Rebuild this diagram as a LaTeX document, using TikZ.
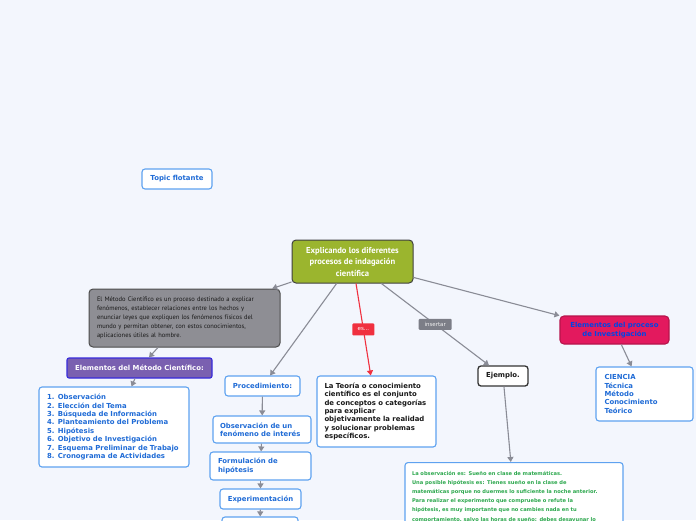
\documentclass[tikz,border=0pt]{standalone}
\usepackage{fontspec}
\usetikzlibrary{arrows.meta}
\newfontfamily\vfont{DejaVu Sans}
\newfontfamily\tfont{PT Sans}
\definecolor{fondo}{HTML}{F3F6FD}
\definecolor{bordeazul}{HTML}{5EA2F0}
\definecolor{textoazul}{HTML}{1F6BD6}
\definecolor{oliva}{HTML}{9BB52E}
\definecolor{grisnodo}{HTML}{8E8E94}
\definecolor{morado}{HTML}{7A60B0}
\definecolor{carmin}{HTML}{E3195E}
\definecolor{gris}{HTML}{8A8C96}
\definecolor{rojo}{HTML}{F0303F}
\definecolor{verde}{HTML}{2DA84E}
\newcommand{\letexto}{\vfont\bfseries\fontsize{6.9}{8.4}\selectfont}
\newcommand{\lechico}{\vfont\bfseries\fontsize{5.15}{9.2}\selectfont}

\begin{document}
\begin{tikzpicture}[x=1pt,y=-1pt,
  caja/.style={draw=bordeazul,fill=white,line width=1.1pt,rounded corners=3pt,inner sep=0pt,font=\letexto,text=textoazul,align=center},
  flecha/.style={draw=gris,line width=1.1pt,-{Triangle[width=6pt,length=5pt]}},
  etiqueta/.style={rounded corners=1pt,inner sep=0pt,font=\vfont\fontsize{5.5}{6}\selectfont,text=white}]
\useasboundingbox (0,0) rectangle (696,520);
\fill[fondo] (0,0) rectangle (696,520);
\clip (0,0) rectangle (696,520);

% centro
\node[draw={black!75},fill=oliva,line width=1pt,rounded corners=4pt,minimum width=121pt,minimum height=43pt,inner sep=0pt,
  align=center,text=white,font=\tfont\bfseries\fontsize{8.6}{11.5}\selectfont] (centro) at (352.5,261.5)
  {Explicando los diferentes\\procesos de indagación\\científica};
\node[caja,minimum width=70pt,minimum height=20pt] (flotante) at (177,179) {Topic flotante};

% metodo cientifico
\node[draw={black!70},fill=grisnodo,line width=1pt,rounded corners=4pt,minimum width=191pt,minimum height=58pt,inner sep=0pt,
  text width=175pt,align=left,text={black!90},font=\tfont\fontsize{6.5}{9}\selectfont] (definicion) at (184.5,318)
  {El Método Científico es un proceso destinado a explicar\\fenómenos, establecer relaciones entre los hechos y\\enunciar leyes que expliquen los fenómenos físicos del\\mundo y permitan obtener, con estos conocimientos,\\aplicaciones útiles al hombre.};
\node[caja,draw={blue!55!morado},fill=morado,text=white,rounded corners=2pt,minimum width=145pt,minimum height=20pt] (elementos) at (139.5,368)
  {Elementos del Método Científico:};
\node[caja,minimum width=150pt,minimum height=80pt,text width=134pt,align=left] (lista) at (114,427)
  {1. Observación\\2. Elección del Tema\\3. Búsqueda de Información\\4. Planteamiento del Problema\\5. Hipótesis\\6. Objetivo de Investigación\\7. Esquema Preliminar de Trabajo\\8. Cronograma de Actividades};

% procedimiento
\node[caja,minimum width=75pt,minimum height=20pt] (proc) at (262.5,386) {Procedimiento:};
\node[caja,minimum width=98pt,minimum height=27pt,text width=84pt,align=left] (obs) at (262,429.5) {Observación de un\\fenómeno de interés};
\node[caja,minimum width=101pt,minimum height=28pt,text width=85pt,align=left] (form) at (260.5,466) {Formulación de\\hipótesis};
\node[caja,minimum width=81pt,minimum height=20pt] (exper) at (260.5,499) {Experimentación};
\node[caja,minimum width=76pt,minimum height=20pt] (sigue) at (260,527) {};

% teoria
\node[caja,minimum width=119pt,minimum height=71pt,text width=104pt,align=left,text={black!90}] (teoria) at (376.5,411.5)
  {La Teoría o conocimiento\\científico es el conjunto\\de conceptos o categorías\\para explicar\\objetivamente la realidad\\y solucionar problemas\\específicos.};

% ejemplo
\node[caja,draw={black!80},line width=1.3pt,text={black!90},minimum width=50pt,minimum height=20pt] (ejemplo) at (503,376) {Ejemplo.};
\node[caja,anchor=north,text width=204pt,align=left,text=verde,font=\lechico,inner xsep=7pt,inner ysep=8.5pt] (caso) at (514,462)
  {La observación es: Sueño en clase de matemáticas.\\Una posible hipótesis es: Tienes sueño en la clase de\\matemáticas porque no duermes lo suficiente la noche anterior.\\Para realizar el experimento que compruebe o refute la\\hipótesis, es muy importante que no cambies nada en tu\\comportamiento, salvo las horas de sueño: debes desayunar lo};

% investigacion
\node[caja,draw={carmin!80!black},fill=carmin,text={blue!70!cyan!90!black},rounded corners=4pt,minimum width=109pt,minimum height=28pt] (proceso) at (614.5,330)
  {Elementos del proceso\\de Investigación};
\node[caja,minimum width=97pt,minimum height=54pt,text width=80pt,align=left] (ciencia) at (644.5,394)
  {CIENCIA\\Técnica\\Método\\Conocimiento\\Teórico};

% conectores
\draw[flecha] (centro) -- (definicion);
\draw[flecha] (centro) -- (proc);
\draw[flecha,draw=rojo] (centro) -- node[etiqueta,fill=rojo,minimum width=22pt,minimum height=12pt] (es) {es...} (teoria);
\draw[flecha] (centro) -- node[etiqueta,fill=gris!90!black,text={white!90!gray},minimum width=33pt,minimum height=11pt] (insertar) {insertar} (ejemplo);
\draw[flecha] (centro) -- (proceso);
\draw[flecha] (definicion) -- (elementos);
\draw[flecha] (elementos) -- (lista);
\draw[flecha] (proc) -- (obs);
\draw[flecha] (obs) -- (form);
\draw[flecha] (form) -- (exper);
\draw[flecha] (exper) -- (sigue);
\draw[flecha] (ejemplo) -- (caso);
\draw[flecha] (proceso) -- (ciencia);
\end{tikzpicture}
\end{document}
